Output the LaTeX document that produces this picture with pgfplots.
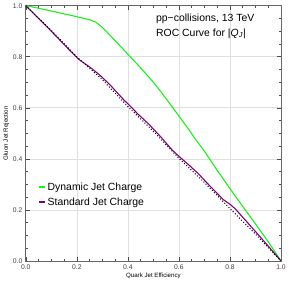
\documentclass[border=0pt]{standalone}
\usepackage{pgfplots}
\pgfplotsset{compat=1.18}
\usepackage{fontspec}
\setmainfont{Liberation Sans}
\definecolor{mgreen}{rgb}{0.1,0.95,0.1}
\definecolor{mpurple}{rgb}{0.5,0,0.5}
\begin{document}
\begin{tikzpicture}
\begin{axis}[
  scale only axis, width=257pt, height=257pt,
  xmin=0, xmax=1, ymin=0, ymax=1,
  xtick={0,0.2,...,1.0}, ytick={0,0.2,...,1.0},
  minor xtick={0.05,0.1,...,0.95}, minor ytick={0.05,0.1,...,0.95},
  xticklabels={0.0,0.2,0.4,0.6,0.8,1.0},
  yticklabels={0.0,0.2,0.4,0.6,0.8,1.0},
  tick align=inside,
  major tick length=4pt, minor tick length=2pt,
  tick style={black!70, line width=0.5pt},
  grid=major, major grid style={gray!25, line width=0.6pt},
  axis line style={black!60, line width=0.6pt},
  ticklabel style={font=\fontsize{6.8}{7}\selectfont, text=black!75},
  /pgf/number format/assume math mode=true,
  xlabel={Quark Jet Efficiency}, ylabel={Gluon Jet Rejection},
  label style={font=\fontsize{6.2}{7}\selectfont},
  xlabel style={yshift=3pt}, ylabel style={yshift=-3pt},
  legend style={draw=none, fill=none, at={(axis cs:0.05,0.315)}, anchor=north west,
    font=\fontsize{10.5}{13}\selectfont, row sep=2pt, inner sep=0pt},
  legend cell align=left,
  legend image code/.code={\draw[#1, line width=1.5pt] (0pt,0pt) -- (5.5pt,0pt);},
]
\addplot[mgreen, line width=1.1pt] coordinates {
(0,1)(0.05,0.99)(0.1,0.979)(0.15,0.968)(0.2,0.957)(0.25,0.945)(0.275,0.935)(0.3,0.915)
(0.353,0.86)(0.4,0.81)(0.444,0.763)(0.5,0.70)(0.528,0.665)(0.58,0.595)(0.638,0.516)
(0.664,0.478)(0.7,0.43)(0.75,0.355)(0.82,0.255)(0.9,0.145)(0.95,0.075)(1,0)};
\addlegendentry{Dynamic Jet Charge}
\addplot[mpurple, line width=1.1pt] coordinates {
(0,1)(0.05,0.95)(0.1,0.9)(0.15,0.848)(0.207,0.79)(0.25,0.76)(0.288,0.73)(0.33,0.69)
(0.385,0.63)(0.405,0.611)(0.44,0.575)(0.482,0.536)(0.53,0.485)(0.573,0.435)(0.6,0.41)
(0.64,0.375)(0.677,0.341)(0.72,0.295)(0.774,0.24)(0.8,0.222)(0.82,0.205)(0.86,0.16)
(0.9,0.115)(0.95,0.058)(1,0)};
\addlegendentry{Standard Jet Charge}
\addplot[black, dotted, line width=1pt, forget plot] coordinates {
(0,1)(0.1,0.903)(0.2,0.8)(0.3,0.71)(0.4,0.605)(0.5,0.508)(0.6,0.402)(0.7,0.307)
(0.8,0.205)(0.9,0.105)(1,0)};
\node[anchor=west, font=\fontsize{10.5}{12}\selectfont, inner sep=0pt] at (axis cs:0.51,0.949) {pp−collisions, 13 TeV};
\node[anchor=west, font=\fontsize{10.5}{12}\selectfont, inner sep=0pt] at (axis cs:0.51,0.891) {ROC Curve for |\textit{Q}\textsubscript{\textit{J}}|};
\end{axis}
\end{tikzpicture}
\end{document}
